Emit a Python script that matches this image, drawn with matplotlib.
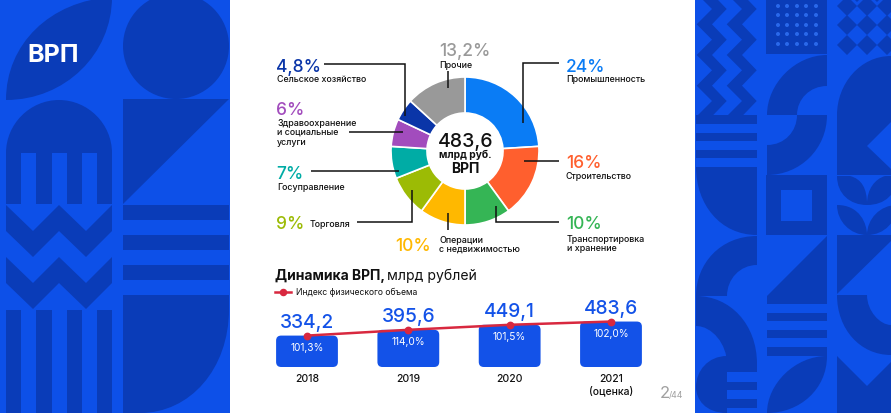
import matplotlib
matplotlib.use("Agg")
import matplotlib.pyplot as plt
from matplotlib.patches import PathPatch, Polygon, Rectangle, Circle, FancyBboxPatch
from matplotlib.path import Path

# ---- data ----
shares = [24, 16, 10, 10, 9, 7, 6, 4.8, 13.2]
share_colors = ["#0a7cf5", "#ff5f2e", "#35b555", "#ffb800", "#9cbb05", "#00aca5", "#a24cbd", "#0a35a8", "#999999"]
years = ["2018", "2019", "2020", "2021\n(оценка)"]
grp = [334.2, 395.6, 449.1, 483.6]
grp_labels = ["334,2", "395,6", "449,1", "483,6"]
index_labels = ["101,3%", "114,0%", "101,5%", "102,0%"]

BG = "#0d50e8"
DK = "#0a3cb8"
BAR = "#1352e8"
RED = "#d8283f"
FONT = "Inter"
plt.rcParams["font.family"] = [FONT, "DejaVu Sans"]

W, H = 891, 414
fig = plt.figure(figsize=(W / 100, H / 100), dpi=100, facecolor="white")


def px_axes(z):
    a = fig.add_axes([0, 0, 1, 1], zorder=z)
    a.set_xlim(0, W)
    a.set_ylim(H, 0)
    a.axis("off")
    a.patch.set_alpha(0)
    return a


bg = px_axes(0)
bg.add_patch(Rectangle((0, 0), 230, H, color=BG, lw=0))
bg.add_patch(Rectangle((695, 0), 196, H, color=BG, lw=0))


def rect(x0, y0, x1, y1, c=DK):
    bg.add_patch(Rectangle((x0, y0), x1 - x0, y1 - y0, fc=c, lw=0))


def poly(pts, c=DK):
    bg.add_patch(Polygon(pts, closed=True, fc=c, lw=0, clip_on=True))


def bez(start, *segs, c=DK):
    """segs: 6-tuples are cubic curves, 2-tuples are lines"""
    v, k = [start], [Path.MOVETO]
    for s in segs:
        if len(s) == 6:
            v += [s[:2], s[2:4], s[4:6]]
            k += [Path.CURVE4] * 3
        else:
            v.append(s)
            k.append(Path.LINETO)
    v.append(start)
    k.append(Path.CLOSEPOLY)
    bg.add_patch(PathPatch(Path(v, k), fc=c, lw=0))


# left panel
bez((6, 101), (6, 45, 50, 2, 112, -2), (112, 55, 65, 101, 6, 101))
bg.add_patch(Circle((176, 47), 53, fc=DK, lw=0))
bez((6, 154), (6, 125, 30, 101, 59, 101), (88, 101, 112, 125, 112, 154), (112, 205), (6, 205))
for x0, x1 in [(21, 36), (52, 67), (82, 97)]:
    rect(x0, 153.5, x1, 206, BG)
poly([(123, 100), (229, 100), (123, 205)])
for y0, y1 in [(206, 221), (236, 251), (266, 281)]:
    rect(123, y0, 229, y1)
bez((123, 296), (229, 296), (229, 310), (229, 370, 190, 414, 140, 414), (123, 414))
for top in (206, 258):
    poly([(6, top), (33, top + 26), (59, top), (86, top + 26), (112, top),
          (112, top + 26), (86, top + 52), (59, top + 26), (33, top + 52), (6, top + 26)])
for x0, x1 in [(6, 21), (36, 52), (67, 82), (97, 112)]:
    rect(x0, 311, x1, 414)

# right panel, column 1
zig_y = [-5.3, 10, 25.3, 40.7, 56, 71.3, 86.7, 102, 117.3]
for dx in (0, 30):
    r_edge = [(dx + (726.7 if i % 2 else 712), y) for i, y in enumerate(zig_y)]
    l_edge = [(dx + (712 if i % 2 else 696.7), y) for i, y in enumerate(zig_y)]
    poly(r_edge + l_edge[::-1])
rect(696, 116, 757, 125)
rect(696, 134, 757, 142)
rect(696, 151, 757, 159)
bez((696, 168), (757, 168), (757, 236), (720, 236, 696, 205, 696, 168))
bez((757, 237), (720, 237, 696, 265, 696, 297), (727, 297), (727, 280, 740, 266, 757, 266))
bez((696, 297), (730, 297, 757, 325, 757, 365), (727, 365), (727, 345, 712, 327, 696, 327))
bez((727, 357), (708, 357, 696, 372, 696, 388), (696, 400, 705, 414, 727, 414))
for y0, y1 in [(365, 373), (383, 391), (400, 409)]:
    rect(727, y0, 757, y1)

# column 2
rect(766, 0, 827, 55)
for x in (778, 787, 797, 806, 816):
    for y in (7, 16, 26, 35, 45):
        bg.add_patch(Circle((x, y), 2, fc="#2a68ea", lw=0))
bez((767, 116), (767, 85, 795, 56, 827, 56), (827, 87), (810, 87, 797, 100, 797, 116))
bez((827, 116), (827, 150, 800, 176, 767, 176), (767, 146), (785, 146, 797, 132, 797, 116))
rect(766, 176, 827, 236)
rect(781, 191, 812, 222, BG)
poly([(827, 237), (767, 297), (767, 305), (827, 305)])
for y0, y1 in [(314, 322), (331, 339), (348, 357)]:
    rect(767, y0, 827, y1)
bez((767, 414), (767, 385, 795, 357, 827, 357), (827, 390, 800, 414, 767, 414))

# column 3
for c_x, c_y in [(847, 7), (867, 7), (887, 7), (847, 26), (867, 26), (887, 26),
                 (847, 46), (867, 46), (887, 46), (857, -7), (877, -7)]:
    poly([(c_x - 10, c_y), (c_x, c_y - 10), (c_x + 10, c_y), (c_x, c_y + 10)])
bez((837, 116), (837, 85, 860, 57, 891, 57), (891, 116))
poly([(837, 116), (891, 116), (891, 123), (867, 147), (891, 170), (891, 176), (837, 176)])
bez((837, 177), (837, 195, 850, 206, 867, 206), (885, 206, 897, 195, 897, 177))
bez((850, 177), (862, 180, 867, 190, 867, 205), (867, 190, 875, 180, 885, 177), c=BG)
bez((837, 206), (860, 206, 867, 225, 867, 236), (850, 236, 837, 222, 837, 206))
bez((867, 236), (867, 220, 880, 206, 897, 206), (897, 222, 885, 236, 867, 236))
poly([(837, 236), (891, 236), (891, 242), (837, 295)])
bez((837, 296), (867, 296), (867, 312, 880, 326, 891, 326), (891, 356), (860, 356, 837, 330, 837, 296))
poly([(837, 357), (867, 387), (891, 363), (891, 414), (837, 414)])
rect(230, 0, 695, 414, "white")

# ---- donut ----
R = 74
cx, cy = 465, 152
pie = fig.add_axes([(cx - R - 1) / W, 1 - (cy + R + 1) / H, (2 * R + 2) / W, (2 * R + 2) / H], zorder=1)
pie.pie(shares, colors=share_colors, startangle=90, counterclock=False, radius=R / (R + 1),
        wedgeprops=dict(width=36 / (R + 1), edgecolor="white", linewidth=1.2))
pie.set_xlim(-1, 1)
pie.set_ylim(-1, 1)

# ---- bars ----
PX_PER_X = 101.33
PX_PER_Y = 0.094
left, right, base, top = 260, 660, 368, 300
bx = fig.add_axes([left / W, 1 - base / H, (right - left) / W, (base - top) / H], zorder=2)
bx.patch.set_alpha(0)
bx.set_xlim((left - 307) / PX_PER_X, (right - 307) / PX_PER_X)
bx.set_ylim(0, (base - top) / PX_PER_Y)
xs = list(range(len(grp)))
bw = 0.61
rs = 0.05
for x, v in zip(xs, grp):
    bx.add_patch(FancyBboxPatch((x - bw / 2, 0), bw, v, boxstyle=f"round,pad=0,rounding_size={rs}",
                                mutation_aspect=PX_PER_X / PX_PER_Y, fc=BAR, ec="none"))
bx.plot(xs, grp, color=RED, lw=1.8, marker="o", ms=4.6, mfc=RED, mec=RED)
for x, v, lab, idx in zip(xs, grp, grp_labels, index_labels):
    bx.annotate(lab, (x, v), xytext=(0, 6.5), textcoords="offset points", ha="center", va="baseline",
                color=BAR, fontsize=13.8, fontweight="medium", annotation_clip=False)
    bx.annotate(idx, (x, v), xytext=(0, -10.5), textcoords="offset points", ha="center", va="baseline",
                color="white", fontsize=7.3, annotation_clip=False)
bx.set_xticks(xs, years)
bx.tick_params(axis="x", length=0, pad=4, labelsize=7.5, labelcolor="#111111")
for lbl in bx.get_xticklabels():
    lbl.set_fontweight("medium")
bx.set_yticks([])
for s in bx.spines.values():
    s.set_visible(False)

# ---- overlay text and leaders ----
ov = px_axes(3)


def T(x, y, s, size, color="#111111", weight="normal", ha="left"):
    ov.text(x, y, s, fontsize=size, color=color, fontweight=weight, ha=ha, va="baseline")


T(27, 62, "ВРП", 18, "white", "bold")

big = 12.5
small = 6.4
items = [
    (276, 72, "4,8%", "#0a35a8", [(277, 82, "Сельское хозяйство")]),
    (276, 115, "6%", "#a24cbd", [(277, 126, "Здравоохранение"), (277, 135, "и социальные"), (277, 145, "услуги")]),
    (276, 179, "7%", "#00aca5", [(277, 190, "Госуправление")]),
    (276, 229, "9%", "#9cbb05", [(310, 227, "Торговля")]),
    (395, 251, "10%", "#ffb800", [(439, 243, "Операции"), (439, 252, "с недвижимостью")]),
    (439, 56, "13,2%", "#999999", [(439, 68, "Прочие")]),
    (566, 72, "24%", "#0a7cf5", [(566, 82, "Промышленность")]),
    (566, 168, "16%", "#ff5f2e", [(566, 179, "Строительство")]),
    (566, 229, "10%", "#35b555", [(567, 242, "Транспортировка"), (567, 251, "и хранение")]),
]
for x, y, s, c, subs in items:
    T(x, y, s, big, c, "medium")
    for sx, sy, st in subs:
        T(sx, sy, st, small, weight="medium")

leaders = [
    [(559, 64), (523, 64), (523, 124)],
    [(559, 162), (524, 162)],
    [(496, 207), (496, 223), (559, 223)],
    [(448, 214), (448, 231)],
    [(412, 191), (412, 223), (357, 223)],
    [(311, 172), (399, 172)],
    [(349, 133), (403, 133)],
    [(324, 65), (405, 65), (405, 117)],
    [(448, 72), (448, 89)],
]
for pts in leaders:
    ov.plot(*zip(*pts), color="#111111", lw=1.1, solid_joinstyle="miter", solid_capstyle="butt")

T(465.5, 147, "483,6", 14, "#111111", "medium", "center")
T(465.5, 158, "млрд руб.", 7.4, "#111111", "bold", "center")
T(465.5, 173, "ВРП", 10, "#111111", "bold", "center")

ov.text(275, 280, "Динамика ВРП,", fontsize=10, fontweight="bold", color="#111111", va="baseline")
ov.text(387, 280, "млрд рублей", fontsize=10.1, color="#111111", va="baseline")
ov.plot([275, 291], [293, 293], color=RED, lw=1.8)
ov.plot([283], [293], color=RED, marker="o", ms=4.4)
T(296, 295, "Индекс физического объема", 6.2)
T(660, 398, "2", 12, "#a0a0a0")
T(669, 398, "/44", 6.3, "#a0a0a0")

fig.savefig("out.png", dpi=100)
